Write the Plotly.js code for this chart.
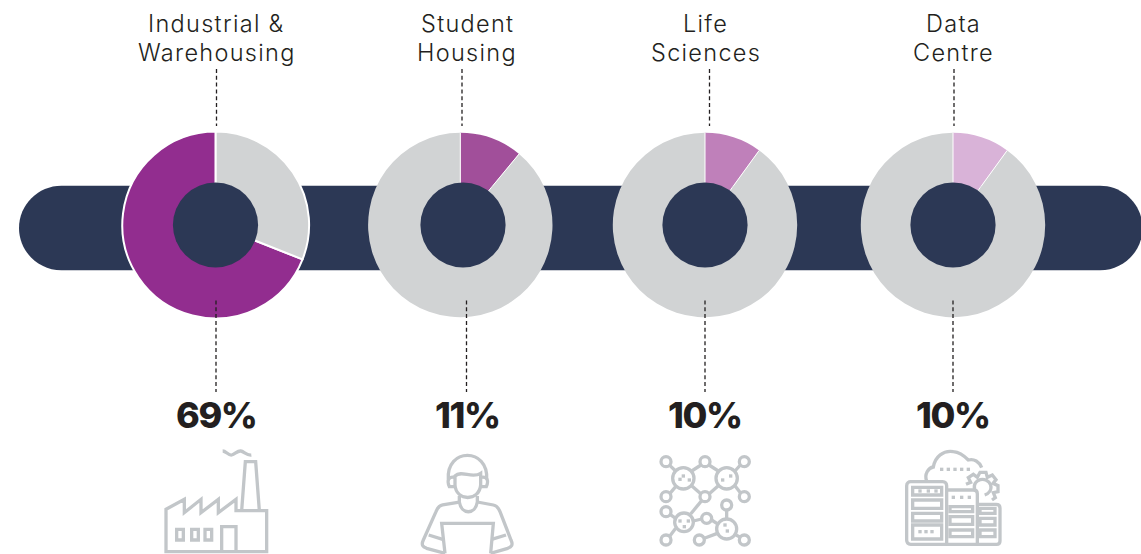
<!DOCTYPE html>
<html>
<head>
<meta charset="utf-8">
<script src="https://cdn.plot.ly/plotly-3.0.1.min.js"></script>
<style>
html,body{margin:0;padding:0;background:#fff;overflow:hidden}
#chart{width:1141px;height:554px}
/* Wide tracking for the sector names, tight for the bold percentages */
.annotation-text{letter-spacing:1.3px}
.annotation-text[style*="font-weight: 800"]{letter-spacing:-1.4px}
</style>
</head>
<body>
<div id="chart"></div>
<script>
// Sector shares
const categories = ['Industrial &<br>Warehousing', 'Student<br>Housing', 'Life<br>Sciences', 'Data<br>Centre'];
const shares = [69, 11, 10, 10];
const shareLabels = ['69%', '11%', '10%', '10%'];
const accentColors = ['#922D8F', '#A14F9A', '#BF80BA', '#D9B3D8'];

// Page geometry, in pixels from the top left corner
const W = 1141, H = 554;
const centres = [215.7, 460.3, 705, 953];
const holeCentres = [215.5, 463, 705, 953];
const labelCentres = [216.5, 467, 705.5, 953];
const percentCentres = [216, 467, 704.5, 952.5];
const topLeaders = [216.5, 462, 709.5, 954];
const bottomLeaders = [216, 466.5, 705, 953];
const CY = 225, R = 92.2, HOLE_R = 42.6;
const NAVY = '#2C3855', GREY = '#D1D3D4', INK = '#231F20', ICON = '#C2C6C9';

const fx = x => x / W;
const fy = y => 1 - y / H;

// Converts "x,y" pairs written in pixels into paper coordinates
function paperPath(d, ox = 0, oy = 0, k = 1) {
  return d.replace(/(-?[\d.]+),(-?[\d.]+)/g, (_, x, y) =>
    fx(ox + x * k).toFixed(5) + ',' + fy(oy + y * k).toFixed(5));
}

const shapes = [];

// Rounded band behind the rings
shapes.push({
  type: 'path', layer: 'below', xref: 'paper', yref: 'paper',
  fillcolor: NAVY, line: {width: 0},
  path: paperPath('M61.5,185.7 L1100,185.7 C1123.5,185.7 1142.5,204.7 1142.5,228 C1142.5,251.3 1123.5,270.3 1100,270.3 L61.5,270.3 C38,270.3 19,251.3 19,228 C19,204.7 38,185.7 61.5,185.7 Z')
});

// Thin white dividers between the two sectors of each lighter ring
shares.forEach((share, i) => {
  if (i === 0) return;
  const a = share * 3.6 * Math.PI / 180;
  [0, a].forEach(t => shapes.push({
    type: 'line', layer: 'above', xref: 'paper', yref: 'paper',
    x0: fx(centres[i]), y0: fy(CY),
    x1: fx(centres[i] + R * Math.sin(t)), y1: fy(CY - R * Math.cos(t)),
    line: {color: '#FFFFFF', width: 1}
  }));
});

// Ring centres
holeCentres.forEach(cx => shapes.push({
  type: 'circle', layer: 'above', xref: 'paper', yref: 'paper',
  x0: fx(cx - HOLE_R), x1: fx(cx + HOLE_R), y0: fy(CY + HOLE_R), y1: fy(CY - HOLE_R),
  fillcolor: NAVY, line: {width: 0}
}));

// Dashed leaders
function leader(x, y0, y1) {
  shapes.push({
    type: 'line', layer: 'above', xref: 'paper', yref: 'paper',
    x0: fx(x), x1: fx(x), y0: fy(y0), y1: fy(y1),
    line: {color: INK, width: 1.3, dash: '4px,2.8px'}
  });
}
topLeaders.forEach(x => leader(x, 69, 126));
bottomLeaders.forEach(x => leader(x, 300.5, 392));

// Icon helpers: local drawing units scaled by k from an origin
function stroke(d, ox, oy, k, w = 3.3) {
  shapes.push({
    type: 'path', layer: 'above', xref: 'paper', yref: 'paper',
    path: paperPath(d, ox, oy, k), line: {color: ICON, width: w}
  });
}
function ring(cx, cy, r, ox, oy, k, w = 3.3) {
  shapes.push({
    type: 'circle', layer: 'above', xref: 'paper', yref: 'paper',
    x0: fx(ox + (cx - r) * k), x1: fx(ox + (cx + r) * k),
    y0: fy(oy + (cy + r) * k), y1: fy(oy + (cy - r) * k),
    line: {color: ICON, width: w}
  });
}
function box(x0, y0, x1, y1, ox, oy, k, w = 3.3) {
  stroke(`M${x0},${y0} L${x1},${y0} L${x1},${y1} L${x0},${y1} Z`, ox, oy, k, w);
}
function dot(x, y, ox, oy, k) {
  shapes.push({
    type: 'rect', layer: 'above', xref: 'paper', yref: 'paper',
    x0: fx(ox + (x - 5) * k), x1: fx(ox + (x + 5) * k),
    y0: fy(oy + (y + 5) * k), y1: fy(oy + (y - 5) * k),
    fillcolor: ICON, line: {width: 0}
  });
}
const K = 1 / 3;

// Factory
(function () {
  const o = [140, 440];
  stroke('M78,335 L78,208 L133,178 L133,218 L183,178 L183,218 L235,178 L235,218 L288,178 L288,212 L380,212 L380,335 Z', o[0], o[1], K);
  stroke('M305,212 L316,65 L347,65 L358,212', o[0], o[1], K);
  stroke('M248,33 C258,33 265,47 275,45 C285,43 292,32 302,33 C312,34 320,47 334,45', o[0], o[1], K);
  [[110, 130], [155, 175], [195, 215]].forEach(p => box(p[0], 268, p[1], 300, o[0], o[1], K));
  stroke('M245,335 L245,260 L288,260 L288,335', o[0], o[1], K);
})();

// Person at a laptop
(function () {
  const o = [140, 440];
  stroke('M925,118 C918,22 1046,22 1040,118', o[0], o[1], K);
  stroke('M945,108 C965,88 995,118 1022,100 L1022,135 C1018,185 948,185 945,135 Z', o[0], o[1], K);
  stroke('M945,112 C925,108 920,122 928,140 L945,140', o[0], o[1], K);
  stroke('M1022,112 C1042,108 1047,122 1039,140 L1022,140', o[0], o[1], K);
  stroke('M958,168 L958,186 C965,225 1005,225 1012,186 L1012,168', o[0], o[1], K);
  stroke('M958,186 L908,195 C897,197 892,205 888,215 L850,300 C843,315 848,320 860,325 L915,340', o[0], o[1], K);
  stroke('M1012,186 L1060,195 C1071,197 1076,205 1080,215 L1113,300 C1120,315 1115,320 1103,325 L1052,340', o[0], o[1], K);
  stroke('M915,340 L905,250 L1060,250 L1052,340', o[0], o[1], K);
  stroke('M866,285 L908,298', o[0], o[1], K);
  stroke('M1098,285 L1055,298', o[0], o[1], K);
})();

// Molecular network
(function () {
  const ox = 655, oy = 445;
  [[85, 100, 32], [215, 100, 32], [87, 232, 28], [215, 252, 30]].forEach(c => ring(c[0], c[1], c[2], ox, oy, K));
  [[33, 50], [150, 50], [268, 50], [33, 155], [150, 155], [268, 155], [33, 200], [155, 220], [215, 180], [33, 285], [133, 285], [268, 285]]
    .forEach(c => ring(c[0], c[1], 15, ox, oy, K));
  [[45, 62, 62, 78], [110, 78, 138, 60], [162, 60, 190, 78], [240, 78, 256, 60], [62, 125, 45, 145],
   [110, 122, 138, 147], [190, 122, 162, 147], [240, 122, 256, 143], [140, 167, 107, 207], [45, 208, 62, 220],
   [115, 228, 140, 222], [170, 225, 190, 238], [215, 195, 215, 222], [62, 250, 43, 275], [148, 280, 187, 265], [243, 270, 258, 278]]
    .forEach(s => stroke(`M${s[0]},${s[1]} L${s[2]},${s[3]}`, ox, oy, K));
  [[75, 103], [85, 93], [103, 105], [203, 105], [227, 93], [75, 228], [100, 228], [88, 245], [210, 240], [217, 258]]
    .forEach(d => dot(d[0], d[1], ox, oy, K));
})();

// Cloud, gear and server racks
(function () {
  const ox = 900, oy = 445;
  stroke('M80,108 C72,88 85,68 100,66 C105,35 130,15 160,20 C180,22 195,35 205,45 C222,40 238,50 245,68', ox, oy, K);
  [[125, 73], [145, 73], [165, 73], [185, 73], [205, 73]].forEach(d => dot(d[0], d[1], ox, oy, K));
  // Gear outline, open towards the racks
  stroke('M198,118 L212,112 L205,98 L220,88 L232,97 L240,82 L258,82 L262,97 L277,90 L288,104 L279,115 L294,122 L294,140 L280,143 L286,158 L276,165', ox, oy, K);
  stroke('M224,135 C215,100 262,92 272,120 C276,135 266,146 254,150', ox, oy, K);
  stroke('M20,122 C20,114 26,110 32,110 L128,110 C136,110 140,116 140,122 L140,298 L32,298 C24,298 20,292 20,286 Z', ox, oy, K);
  stroke('M140,135 L220,135 C228,135 232,140 232,146 L232,298 L140,298', ox, oy, K);
  stroke('M232,178 L288,178 C296,178 300,183 300,189 L300,288 C300,294 296,298 290,298 L232,298', ox, oy, K);
  [[38, 127, 125, 150], [38, 165, 125, 190], [38, 205, 125, 228], [38, 240, 125, 282],
   [150, 185, 218, 200], [150, 215, 218, 238], [150, 255, 218, 275],
   [240, 190, 285, 205], [240, 220, 285, 240], [240, 255, 285, 275]]
    .forEach(b => box(b[0], b[1], b[2], b[3], ox, oy, K));
  [[60, 138], [85, 138], [108, 138], [60, 260], [78, 260], [96, 260], [160, 157], [185, 157], [208, 157]]
    .forEach(d => dot(d[0], d[1], ox, oy, K));
})();

// One ring per sector; the first runs back from twelve o'clock, the rest forward
const traces = shares.map((share, i) => {
  const first = i === 0;
  const r = first ? R + 1.2 : R;
  return {
    type: 'pie',
    labels: [categories[i].replace('<br>', ' '), 'Other'],
    values: [share, 100 - share],
    sort: false,
    direction: 'clockwise',
    rotation: first ? -share * 3.6 : 0,
    hole: 0.42,
    textinfo: 'none',
    hoverinfo: 'label+percent',
    showlegend: false,
    marker: {
      colors: [accentColors[i], GREY],
      line: {color: '#FFFFFF', width: first ? 2 : 0}
    },
    domain: {
      x: [fx(centres[i] - r), fx(centres[i] + r)],
      y: [fy(CY + r), fy(CY - r)]
    }
  };
});

// Sector names above, percentages below
const nameLineY = [24, 52];
const annotations = [];
categories.forEach((c, i) => c.split('<br>').forEach((line, j) => annotations.push({
  xref: 'paper', yref: 'paper', x: fx(labelCentres[i]), y: fy(nameLineY[j]),
  xanchor: 'center', yanchor: 'middle', showarrow: false, align: 'center', text: line,
  font: {family: 'Inter, "Open Sans", sans-serif', size: 23.5, color: INK, weight: 300}
})));
shareLabels.forEach((t, i) => annotations.push({
  xref: 'paper', yref: 'paper', x: fx(percentCentres[i]), y: fy(415),
  xanchor: 'center', yanchor: 'middle', showarrow: false, text: t,
  font: {family: 'Inter, "Open Sans", sans-serif', size: 36, color: INK, weight: 800}
}));

Plotly.newPlot('chart', traces, {
  width: W, height: H,
  margin: {l: 0, r: 0, t: 0, b: 0},
  paper_bgcolor: '#FFFFFF',
  showlegend: false,
  shapes, annotations
}, {displayModeBar: false, staticPlot: true});
</script>
</body>
</html>
